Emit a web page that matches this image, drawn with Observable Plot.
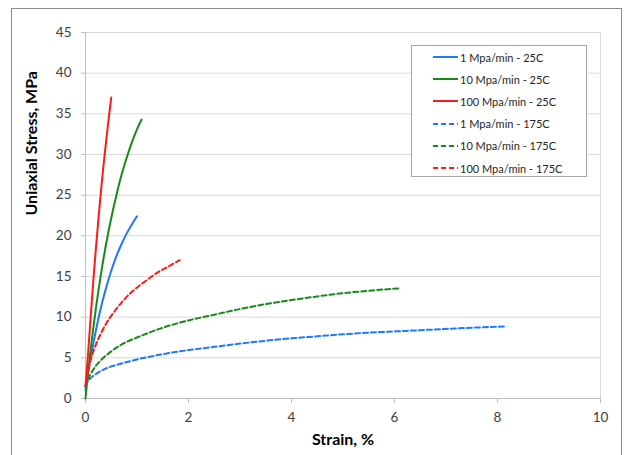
<!DOCTYPE html>
<html>
<head>
<meta charset="utf-8">
<script src="https://cdn.jsdelivr.net/npm/d3@7"></script>
<script src="https://cdn.jsdelivr.net/npm/@observablehq/plot@0.6"></script>
<style>
  body { margin: 0; background: #fff; }
  #wrap { position: relative; width: 628px; height: 455px; overflow: hidden; font-family: Lato, "Open Sans", sans-serif; }
  #frame { position: absolute; left: 11px; top: 8px; width: 611px; height: 470px; border: 1px solid #8c8c8c; box-sizing: border-box; }
  #chart { position: absolute; left: 0; top: 0; }
  #legend { position: absolute; left: 411px; top: 45px; width: 176px; height: 132px; border: 1px solid #a6a6a6; background: #fff; box-sizing: border-box; }
  .row { position: absolute; left: 21px; height: 14px; display: flex; align-items: center; font-size: 11px; color: #262626; white-space: nowrap; }
  .row svg { margin-right: 2px; }
</style>
</head>
<body>
<div id="wrap">
  <div id="frame"></div>
  <div id="chart"></div>
  <div id="legend"></div>
</div>
<script>
// Stress-strain curves: [strain %, stress MPa]
const rate1_25C = [[0, 1], [0.05, 3.2], [0.1, 5], [0.2, 8.3], [0.3, 11.2], [0.4, 13.6], [0.5, 15.7], [0.6, 17.5], [0.7, 19], [0.8, 20.3], [0.9, 21.4], [1.0, 22.4]];
const rate10_25C = [[0, 0], [0.05, 3.2], [0.1, 6], [0.2, 11], [0.3, 15.3], [0.4, 19], [0.5, 22.2], [0.6, 25], [0.7, 27.5], [0.8, 29.6], [0.9, 31.5], [1.0, 33.1], [1.09, 34.3]];
const rate100_25C = [[0, 1.5], [0.05, 5.5], [0.1, 10], [0.15, 14.3], [0.2, 18.3], [0.25, 22], [0.3, 25.5], [0.35, 28.7], [0.4, 31.6], [0.45, 34.4], [0.5, 37]];
const rate1_175C = [[0, 1.5], [0.03, 1.9], [0.1, 2.5], [0.2, 3.0], [0.4, 3.7], [0.7, 4.3], [1.0, 4.8], [1.5, 5.45], [2.0, 5.95], [2.5, 6.35], [3.0, 6.75], [3.5, 7.1], [4.0, 7.4], [4.5, 7.65], [5.0, 7.9], [5.5, 8.1], [6.0, 8.25], [6.5, 8.4], [7.0, 8.55], [7.5, 8.7], [8.15, 8.85]];
const rate10_175C = [[0, 1.4], [0.05, 2.4], [0.1, 3.0], [0.2, 4.0], [0.3, 4.7], [0.5, 5.8], [0.75, 6.8], [1.0, 7.5], [1.5, 8.7], [2.0, 9.6], [2.5, 10.3], [3.0, 11.0], [3.5, 11.6], [4.0, 12.1], [4.5, 12.55], [5.0, 12.95], [5.5, 13.25], [6.1, 13.55]];
const rate100_175C = [[0, 1.6], [0.05, 3.3], [0.1, 4.7], [0.2, 6.6], [0.3, 8.0], [0.4, 9.2], [0.55, 10.6], [0.7, 11.8], [0.88, 13.0], [1.05, 13.9], [1.2, 14.6], [1.4, 15.5], [1.6, 16.2], [1.83, 17.0]];

const seriesNames = ["1 Mpa/min - 25C", "10 Mpa/min - 25C", "100 Mpa/min - 25C", "1 Mpa/min - 175C", "10 Mpa/min - 175C", "100 Mpa/min - 175C"];
const seriesPoints = [rate1_25C, rate10_25C, rate100_25C, rate1_175C, rate10_175C, rate100_175C];
const seriesColors = ["#1f78ff", "#178a17", "#ff1a1a", "#1f78ff", "#178a17", "#ff1a1a"];
const dashedSeries = ["1 Mpa/min - 175C", "10 Mpa/min - 175C", "100 Mpa/min - 175C"];

const xTicks = [0, 2, 4, 6, 8, 10];
const yTicks = [0, 5, 10, 15, 20, 25, 30, 35, 40, 45];

const rows = seriesNames.flatMap((name, i) =>
  seriesPoints[i].map(([strain, stress]) => ({series: name, strain, stress}))
);
const solidRows = rows.filter(d => !dashedSeries.includes(d.series));
const dashedRows = rows.filter(d => dashedSeries.includes(d.series));

const color = {domain: seriesNames, range: seriesColors};

const chart = Plot.plot({
  width: 628,
  height: 455,
  marginLeft: 85,
  marginRight: 28,
  marginTop: 32,
  marginBottom: 57,
  style: {fontFamily: "Lato, 'Open Sans', sans-serif", fontSize: "13.5px", color: "#404040", background: "transparent"},
  x: {domain: [0, 10]},
  y: {domain: [0, 45]},
  color,
  marks: [
    Plot.gridY(yTicks, {stroke: "#d9d9d9", strokeOpacity: 1}),
    Plot.ruleX([10], {stroke: "#d9d9d9"}),
    Plot.ruleX([0], {stroke: "#bfbfbf"}),
    Plot.ruleY([0], {stroke: "#bfbfbf"}),
    Plot.axisY(yTicks, {tickSize: 4, tickPadding: 10, stroke: "#bfbfbf", fill: "#404040", label: null}),
    Plot.axisX(xTicks, {tickSize: 5, tickPadding: 9, stroke: "#bfbfbf", fill: "#404040", label: null}),
    Plot.line(solidRows, {x: "strain", y: "stress", z: "series", stroke: "series", strokeWidth: 2, curve: "monotone-x"}),
    Plot.line(dashedRows, {x: "strain", y: "stress", z: "series", stroke: "series", strokeWidth: 2, strokeDasharray: "5,3", curve: "monotone-x"}),
    Plot.text(["Strain, %"], {frameAnchor: "bottom", lineAnchor: "bottom", dy: 46, fontSize: 16, fontWeight: "bold", fill: "#000"}),
    Plot.text(["Uniaxial Stress, MPa"], {frameAnchor: "left", rotate: -90, dx: -54, fontSize: 16, fontWeight: "bold", fill: "#000"})
  ]
});
document.getElementById("chart").append(chart);

// Legend: line sample plus series name
const legend = document.getElementById("legend");
seriesNames.forEach((name, i) => {
  const row = document.createElement("div");
  row.className = "row";
  row.style.top = (4 + i * 22.2) + "px";
  const dash = dashedSeries.includes(name) ? "5,3" : "none";
  row.innerHTML = `<svg width="25" height="4"><line x1="0" y1="2" x2="25" y2="2" stroke="${seriesColors[i]}" stroke-width="2" stroke-dasharray="${dash}"/></svg>`;
  const label = document.createElement("span");
  label.textContent = name;
  row.append(label);
  legend.append(row);
});
</script>
</body>
</html>
